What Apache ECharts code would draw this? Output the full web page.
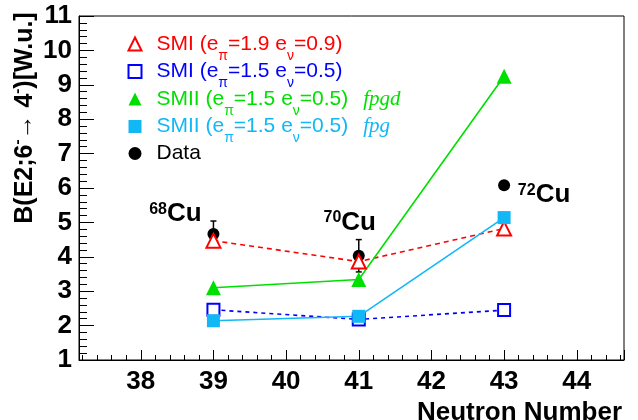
<!DOCTYPE html>
<html><head><meta charset="utf-8">
<script src="https://cdn.jsdelivr.net/npm/echarts@6/dist/echarts.min.js"></script>
<style>html,body{margin:0;padding:0;background:#fff}#c{width:638px;height:420px}</style>
</head><body><div id="c"></div>
<script>
// ---- data ----
const neutrons = [39, 41, 43];
const smiStrong = [4.47, 3.86, 4.82];   // SMI (e_pi=1.9 e_nu=0.9)
const smiWeak = [2.46, 2.18, 2.45];     // SMI (e_pi=1.5 e_nu=0.5)
const smiiFpgd = [3.10, 3.34, 9.25];    // SMII fpgd
const smiiFpg = [2.14, 2.27, 5.14];     // SMII fpg
const dataValues = [4.66, 4.03, 6.08];  // experiment
const dataErrors = [0.38, 0.47, 0];
const massNumbers = ['68', '70', '72'];
const xRange = [37.15, 44.65];
const yRange = [1, 11];

// ---- styles ----
const FONT = "'Liberation Sans', Arial, Helvetica, sans-serif";
const COLORS = { red: '#ff0000', blue: '#0000ff', green: '#00e000', cyan: '#12b8f5', black: '#000000' };
const labelOffsets = [[-38, -20], [-9, -33], [40, 10]];

function pairs(ys) { return neutrons.map((x, i) => [x, ys[i]]); }

// legend rich text
const rich = {};
Object.keys(COLORS).forEach(k => {
  rich['m' + k] = { color: COLORS[k], fontSize: 21, lineHeight: 22, verticalAlign: 'middle', fontFamily: FONT };
  rich['p' + k] = { color: COLORS[k], fontSize: 21, lineHeight: 30, verticalAlign: 'middle', fontFamily: FONT };
  rich['s' + k] = { color: COLORS[k], fontSize: 14, lineHeight: 14, padding: [16, 0, 0, 0], verticalAlign: 'top', fontFamily: FONT };
  rich['i' + k] = { color: COLORS[k], fontSize: 21, lineHeight: 22, padding: [0, 0, 0, 15], verticalAlign: 'middle', fontFamily: "'Liberation Serif', 'Times New Roman', serif", fontStyle: 'italic' };
});
function eLabel(c, ep, en, tag) {
  return `{m${c}|${tag} (e}{s${c}|\u03c0}{m${c}|=${ep} e}{s${c}|\u03bd}{m${c}|=${en})}`;
}
const legendText = {
  'SMI a': eLabel('red', '1.9', '0.9', 'SMI'),
  'SMI b': eLabel('blue', '1.5', '0.5', 'SMI'),
  'SMII fpgd': eLabel('green', '1.5', '0.5', 'SMII') + '{igreen|fpgd}',
  'SMII fpg': eLabel('cyan', '1.5', '0.5', 'SMII') + '{icyan|fpg}',
  'Data': '{pblack|Data}'
};

const axisCommon = {
  axisLine: { show: true, onZero: false, lineStyle: { color: '#000', width: 1 } },
  splitLine: { show: false },
};

const chart = echarts.init(document.getElementById('c'), null, { renderer: 'canvas' });
chart.setOption({
  animation: false,
  backgroundColor: '#fff',
  grid: { left: 79, right: 14, top: 16, bottom: 60, show: true, borderColor: '#000', borderWidth: 1, backgroundColor: 'transparent', containLabel: false, outerBoundsMode: 'none' },
  legend: {
    orient: 'vertical', left: 127.5, top: 33, padding: 0,
    itemWidth: 13, itemHeight: 13, itemGap: -2.5, selectedMode: false,
    textStyle: { padding: [0, 0, 0, 10], rich: rich, fontFamily: FONT },
    formatter: name => legendText[name],
    data: [
      { name: 'SMI a', icon: 'emptyTriangle' },
      { name: 'SMI b', icon: 'emptyRect' },
      { name: 'SMII fpgd', icon: 'triangle' },
      { name: 'SMII fpg', icon: 'rect' },
      { name: 'Data', icon: 'circle' }
    ]
  },
  xAxis: Object.assign({}, axisCommon, {
    type: 'value', min: xRange[0], max: xRange[1], splitNumber: 8,
    axisTick: { show: true, inside: true, length: 10, lineStyle: { color: '#000' } },
    minorTick: { show: true, splitNumber: 5, length: 5, lineStyle: { color: '#000' } },
    axisLabel: { showMinLabel: false, showMaxLabel: false, margin: 9, fontSize: 26, fontWeight: 'bold', color: '#000', fontFamily: FONT },
    name: 'Neutron Number', nameLocation: 'middle', nameGap: 34,
    nameTextStyle: { fontSize: 26, fontWeight: 'bold', color: '#000', fontFamily: FONT, padding: [0, 0, 0, 336] }
  }),
  yAxis: Object.assign({}, axisCommon, {
    type: 'value', min: yRange[0], max: yRange[1], interval: 1,
    axisTick: { show: true, inside: true, length: 15, lineStyle: { color: '#000' } },
    minorTick: { show: true, splitNumber: 5, length: 8, lineStyle: { color: '#000' } },
    axisLabel: { margin: 7, fontSize: 26, fontWeight: 'bold', color: '#000', fontFamily: FONT },
    name: '{b|B(E2;6}{p|-}{a|\u2192}{b| 4}{p|-}{b|)[W.u.]}',
    nameLocation: 'middle', nameGap: 41, nameRotate: 90, nameMoveOverlap: false,
    nameTextStyle: {
      padding: [0, 0, 0, 140],
      rich: {
        b: { fontSize: 25, fontWeight: 'bold', lineHeight: 28, verticalAlign: 'bottom', color: '#000', fontFamily: FONT },
        a: { fontSize: 25, fontWeight: 'normal', lineHeight: 28, verticalAlign: 'bottom', color: '#000', fontFamily: FONT },
        p: { fontSize: 15, fontWeight: 'bold', lineHeight: 15, verticalAlign: 'top', color: '#000', fontFamily: FONT }
      }
    }
  }),
  series: [
    {
      type: 'custom', name: 'errors', silent: true, z: 2,
      data: neutrons.map((x, i) => [x, dataValues[i], dataErrors[i]]),
      encode: { x: 0, y: 1 },
      renderItem: (params, api) => {
        const x = api.value(0), y = api.value(1), e = api.value(2);
        if (!e) return null;
        const t = api.coord([x, y + e]), b = api.coord([x, y - e]);
        const st = { stroke: '#000', lineWidth: 1.5 };
        return { type: 'group', children: [
          { type: 'line', shape: { x1: t[0], y1: t[1], x2: b[0], y2: b[1] }, style: st },
          { type: 'line', shape: { x1: t[0] - 3, y1: t[1], x2: t[0] + 3, y2: t[1] }, style: st },
          { type: 'line', shape: { x1: b[0] - 3, y1: b[1], x2: b[0] + 3, y2: b[1] }, style: st }
        ] };
      }
    },
    {
      type: 'scatter', name: 'Data', z: 2, symbol: 'circle', symbolSize: 12,
      itemStyle: { color: '#000', opacity: 1 },
      data: pairs(dataValues).map((v, i) => ({ value: v, label: { offset: labelOffsets[i] } })),
      label: {
        show: true, position: 'inside', align: 'center', verticalAlign: 'middle',
        formatter: p => `{s|${massNumbers[p.dataIndex]}}{c|Cu}`,
        rich: {
          s: { fontSize: 16, fontWeight: 'bold', lineHeight: 16, verticalAlign: 'top', color: '#000', fontFamily: FONT },
          c: { fontSize: 26, fontWeight: 'bold', lineHeight: 26, padding: [5, 0, 0, 0], verticalAlign: 'bottom', color: '#000', fontFamily: FONT }
        }
      }
    },
    {
      type: 'line', name: 'SMI a', z: 3, data: pairs(smiStrong),
      symbol: 'emptyTriangle', symbolSize: 14,
      itemStyle: { color: COLORS.red, borderWidth: 1.2 },
      lineStyle: { color: COLORS.red, width: 1.6, type: [5, 4] }
    },
    {
      type: 'line', name: 'SMI b', z: 3, data: pairs(smiWeak),
      symbol: 'emptyRect', symbolSize: 12,
      itemStyle: { color: COLORS.blue, borderWidth: 1.2 },
      lineStyle: { color: COLORS.blue, width: 1.6, type: [4, 4] }
    },
    {
      type: 'line', name: 'SMII fpgd', z: 3, data: pairs(smiiFpgd),
      symbol: 'triangle', symbolSize: 15,
      itemStyle: { color: COLORS.green },
      lineStyle: { color: COLORS.green, width: 1.6 }
    },
    {
      type: 'line', name: 'SMII fpg', z: 3, data: pairs(smiiFpg),
      symbol: 'rect', symbolSize: 13,
      itemStyle: { color: COLORS.cyan },
      lineStyle: { color: COLORS.cyan, width: 1.6 }
    }
  ]
});
</script>
</body></html>
